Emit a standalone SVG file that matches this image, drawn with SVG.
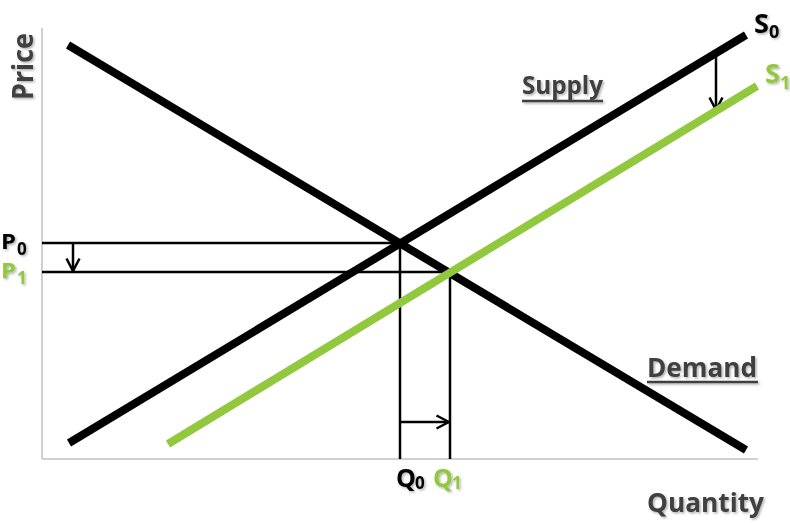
<svg xmlns="http://www.w3.org/2000/svg" width="790" height="523" viewBox="0 0 790 523">
<style>
.axis{stroke:#c0c0c0;stroke-width:1.5;fill:none}
.thick{stroke:#000;stroke-width:8;fill:none}
.green{stroke:#92c83e;stroke-width:8;fill:none}
.thin{stroke:#000;stroke-width:2.5;fill:none}
.lbl{font-family:"Open Sans","Liberation Sans",sans-serif;font-weight:bold}
.gray{fill:#3f3f3f}
.blk{fill:#000}
.grn{fill:#92c83e}
.ul{stroke:#3f3f3f;stroke-width:2.5}
</style>
<defs>
<filter id="sh" x="-20%" y="-20%" width="140%" height="140%">
<feDropShadow dx="1.5" dy="1.5" stdDeviation="1" flood-color="#000" flood-opacity="0.3"/>
</filter>
<marker id="arr" viewBox="0 0 16 16" refX="14.5" refY="8" markerWidth="16" markerHeight="16" markerUnits="userSpaceOnUse" orient="auto">
<path d="M2,1.5 L14.5,8 L2,14.5" fill="none" stroke="#000" stroke-width="2.5"/>
</marker>
</defs>
<g id="axes">
<line class="axis" x1="42" y1="28" x2="42" y2="459"/>
<line class="axis" x1="42" y1="459" x2="758" y2="459"/>
</g>
<g id="connectors">
<line class="thin" x1="42" y1="243" x2="400" y2="243"/>
<line class="thin" x1="42" y1="272" x2="450" y2="272"/>
<line class="thin" x1="400" y1="243" x2="400" y2="459"/>
<line class="thin" x1="450" y1="272" x2="450" y2="459"/>
<line class="thin" x1="73" y1="243" x2="73" y2="271" marker-end="url(#arr)"/>
<line class="thin" x1="400" y1="422" x2="449" y2="422" marker-end="url(#arr)"/>
<line class="thin" x1="716" y1="54" x2="716" y2="110" marker-end="url(#arr)"/>
</g>
<g id="demand">
<line class="thick" x1="68" y1="45" x2="746" y2="450"/>
</g>
<g id="supply0">
<line class="thick" x1="69" y1="443" x2="746" y2="35"/>
</g>
<g id="supply1">
<line class="green" x1="168" y1="444" x2="757" y2="86"/>
</g>
<g id="labels" filter="url(#sh)">
<text class="lbl gray" font-size="28" transform="translate(33,100) rotate(-90)" textLength="67" lengthAdjust="spacingAndGlyphs">Price</text>
<text class="lbl gray" font-size="25" x="522" y="94" textLength="81" lengthAdjust="spacingAndGlyphs">Supply</text>
<line class="ul" x1="522" y1="101" x2="603" y2="101"/>
<text class="lbl gray" font-size="26" x="647" y="377" textLength="110" lengthAdjust="spacingAndGlyphs">Demand</text>
<line class="ul" x1="647" y1="382" x2="758" y2="382"/>
<text class="lbl gray" font-size="27" x="647" y="512" textLength="117" lengthAdjust="spacingAndGlyphs">Quantity</text>
<text class="lbl blk" font-size="27" x="754" y="33">S<tspan font-size="18" dy="5">0</tspan></text>
<text class="lbl grn" font-size="27" x="765" y="83">S<tspan font-size="18" dy="6">1</tspan></text>
<text class="lbl blk" font-size="21" x="1" y="249" textLength="15" lengthAdjust="spacingAndGlyphs">P</text>
<text class="lbl blk" font-size="17" x="17" y="255">0</text>
<text class="lbl grn" font-size="21" x="1" y="278" textLength="15" lengthAdjust="spacingAndGlyphs">P</text>
<text class="lbl grn" font-size="17" x="17" y="284">1</text>
<text class="lbl blk" font-size="25" x="396" y="487">Q<tspan font-size="17" dx="-1" dy="2">0</tspan></text>
<text class="lbl grn" font-size="25" x="433" y="487">Q<tspan font-size="17" dx="-1" dy="2">1</tspan></text>
</g>
</svg>
